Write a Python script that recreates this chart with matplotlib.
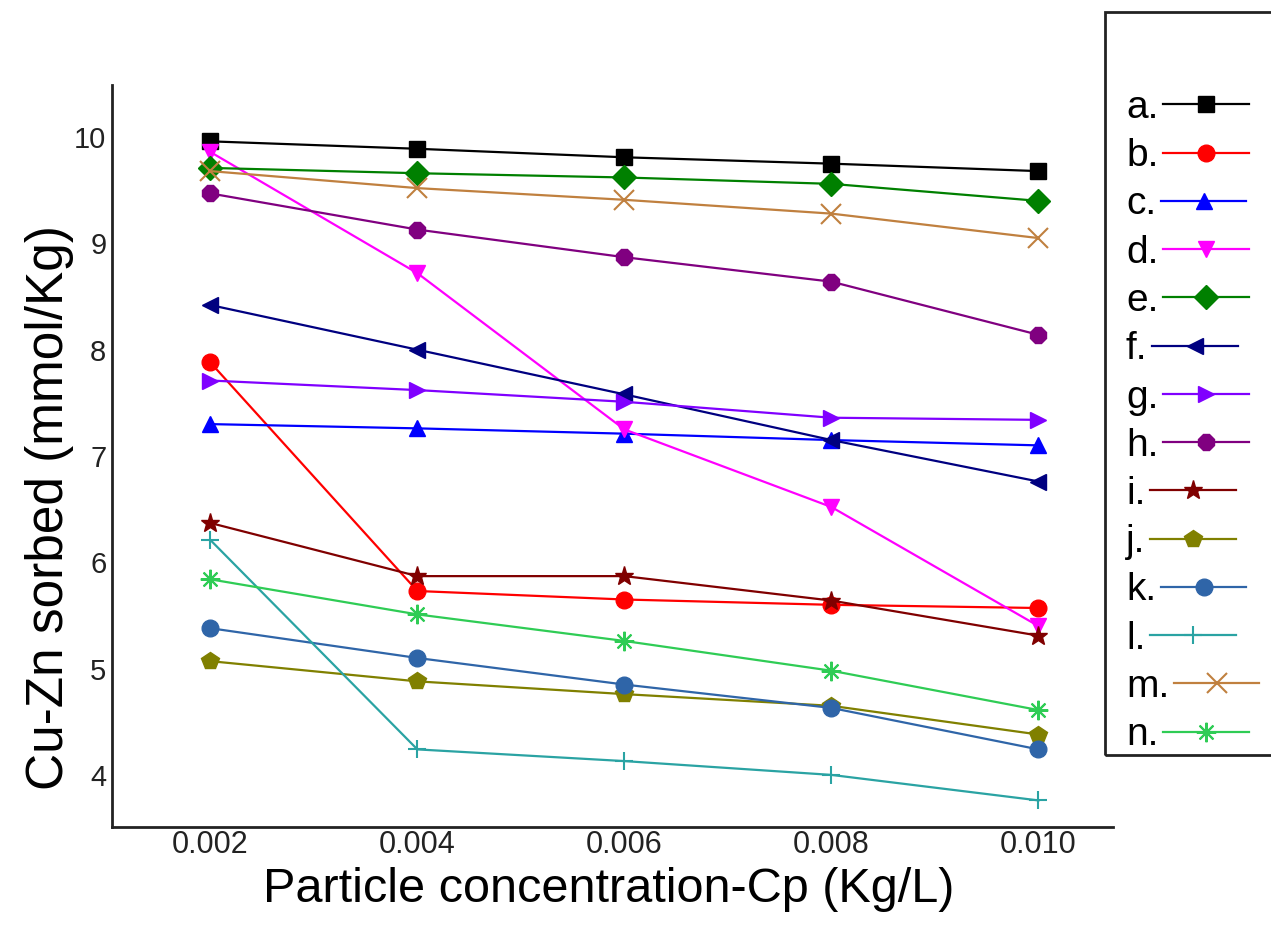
import matplotlib
matplotlib.use("Agg")
import matplotlib.pyplot as plt
from matplotlib.patches import Rectangle

plt.rcParams['font.family'] = ['Liberation Sans', 'DejaVu Sans']

# particle concentration (Kg/L)
cp = [0.002, 0.004, 0.006, 0.008, 0.010]
x_ticks = ["0.002", "0.004", "0.006", "0.008", "0.010"]

# Cu-Zn sorbed (mmol/Kg)
a = [9.96, 9.89, 9.81, 9.75, 9.68]
b = [7.88, 5.73, 5.65, 5.60, 5.57]
c = [7.30, 7.26, 7.21, 7.15, 7.10]
d = [9.86, 8.72, 7.25, 6.52, 5.40]
e = [9.71, 9.66, 9.62, 9.56, 9.40]
f = [8.42, 8.00, 7.58, 7.15, 6.76]
g = [7.71, 7.62, 7.51, 7.36, 7.34]
h = [9.47, 9.13, 8.87, 8.64, 8.14]
i = [6.37, 5.87, 5.87, 5.64, 5.31]
j = [5.07, 4.88, 4.76, 4.65, 4.38]
k = [5.38, 5.10, 4.85, 4.63, 4.24]
l = [6.21, 4.24, 4.13, 4.00, 3.76]
m = [9.68, 9.52, 9.41, 9.28, 9.05]
n = [5.84, 5.51, 5.26, 4.98, 4.61]

labels = ["a.", "b.", "c.", "d.", "e.", "f.", "g.", "h.", "i.", "j.", "k.", "l.", "m.", "n."]
series = [a, b, c, d, e, f, g, h, i, j, k, l, m, n]
colors = ["#000000", "#ff0000", "#0000ff", "#ff00ff", "#008000", "#000080", "#8000ff",
          "#800080", "#800000", "#808000", "#2f65a8", "#2aa3a3", "#c0803f", "#2fcc55"]
markers = ["s", "o", "^", "v", "D", "<", ">", "8", "*", "p", "o", "+", "x", (8, 2, 0)]
sizes = [12, 12, 12, 12, 12, 12, 12, 12, 14, 13, 12, 13, 14, 14]

fig = plt.figure(figsize=(12.71, 9.27), dpi=100)
ax = fig.add_axes([112 / 1271, 1 - 827 / 927, (1113 - 112) / 1271, (827 - 85) / 927])

handles = []
for ys, lab, col, mk, ms in zip(series, labels, colors, markers, sizes):
    hollow = mk in ("+", "x") or isinstance(mk, tuple)
    line, = ax.plot(cp, ys, color=col, marker=mk, markersize=ms, linewidth=1.6,
                    markeredgewidth=1.5 if hollow else 1.0,
                    markeredgecolor=col, markerfacecolor=col, label=lab)
    handles.append(line)

ax.set_xlim(0.00105, 0.01072)
ax.set_ylim(3.51, 10.49)
ax.set_xticks(cp)
ax.set_xticklabels(x_ticks, fontsize=22)
ax.set_yticks([4, 5, 6, 7, 8, 9, 10])
ax.set_yticklabels(["4", "5", "6", "7", "8", "9", "10"], fontsize=21)
ax.tick_params(length=0, colors="#222222")
ax.tick_params(axis="x", pad=2)
ax.tick_params(axis="y", pad=4)

for side in ("top", "right"):
    ax.spines[side].set_visible(False)
for side in ("left", "bottom"):
    ax.spines[side].set_linewidth(2.0)
    ax.spines[side].set_color("#222222")

ax.set_xlabel("Particle concentration-Cp (Kg/L)", fontsize=35)
ax.xaxis.set_label_coords(0.4965, -0.054)
ax.set_ylabel("Cu-Zn sorbed (mmol/Kg)", fontsize=37)
ax.yaxis.set_label_coords(-0.038, 0.43)

# legend box sits at the right edge and is cut by the figure border
fig.patches.append(Rectangle((1105 / 1271, 1 - 755 / 927), 200 / 1271, (755 - 12) / 927,
                             transform=fig.transFigure, fill=False,
                             edgecolor="#222222", linewidth=2.0))
leg = fig.legend(handles=handles, loc="upper left",
                 bbox_to_anchor=(1126 / 1271, 1 - 90 / 927),
                 frameon=False, fontsize=28, labelspacing=0.315, handlelength=2.2,
                 handletextpad=0.12, borderaxespad=0, borderpad=0, markerfirst=False)
# keep the labels flush left, the line follows each label
for col in leg._legend_handle_box.get_children():
    col.align = "left"

fig.savefig("out.png", dpi=100)
